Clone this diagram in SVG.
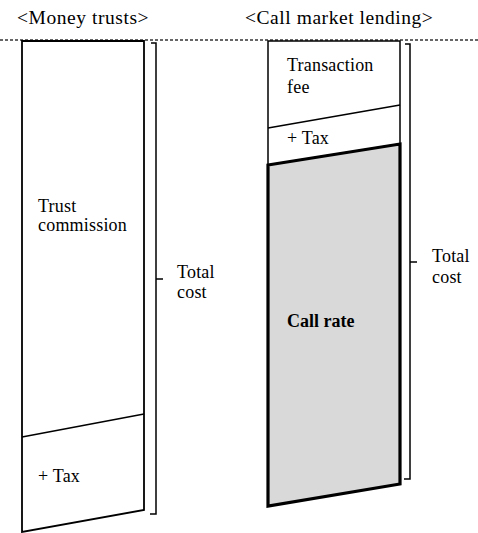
<svg xmlns="http://www.w3.org/2000/svg" width="478" height="533" viewBox="0 0 478 533">
<style>
.h{font-size:19.5px;letter-spacing:0.55px}
.t{font-size:18px;letter-spacing:0.2px}
.b{font-size:18px;font-weight:bold}
.ln{fill:none;stroke:#000;stroke-width:1.5}
</style>
<rect width="478" height="533" fill="#fff"/>
<line x1="0" y1="40" x2="478" y2="40" stroke="#666" stroke-width="2" stroke-dasharray="3,2"/>
<g font-family="Liberation Serif, Tinos, Times New Roman, DejaVu Serif, serif" fill="#000">
<text class="h" x="17" y="24">&lt;Money trusts&gt;</text>
<text class="h" x="245" y="24">&lt;Call market lending&gt;</text>
<g id="money-trusts">
<polygon points="22,41 144,41 144,510 22,532" fill="#fff" stroke="#000" stroke-width="1.8"/>
<line x1="22" y1="437" x2="144" y2="414" stroke="#000" stroke-width="1.5"/>
<text class="t" x="38" y="212">Trust</text>
<text class="t" x="38" y="231">commission</text>
<text class="t" x="38" y="482">+ Tax</text>
</g>
<g id="call-market">
<polygon points="268,41 400,41 400,144 268,165" fill="#fff" stroke="#000" stroke-width="1.5"/>
<line x1="268" y1="128" x2="400" y2="105" stroke="#000" stroke-width="1.5"/>
<polygon points="268,165 400,144 400,484 268,506" fill="#d9d9d9" stroke="#000" stroke-width="3.2" stroke-linejoin="miter"/>
<text class="t" x="287" y="71">Transaction</text>
<text class="t" x="287" y="93">fee</text>
<text class="t" x="287" y="144">+ Tax</text>
<text class="b" x="287" y="327">Call rate</text>
</g>
<g id="connectors">
<path class="ln" d="M151,43 H156 V514 H150 M156,279 H163"/>
<path class="ln" d="M405,44 H410 V479 H404 M410,262 H417"/>
</g>
<g id="total-left">
<text class="t" x="177" y="278">Total</text>
<text class="t" x="177" y="298">cost</text>
</g>
<g id="total-right">
<text class="t" x="432" y="262">Total</text>
<text class="t" x="432" y="283">cost</text>
</g>
</g>
</svg>
